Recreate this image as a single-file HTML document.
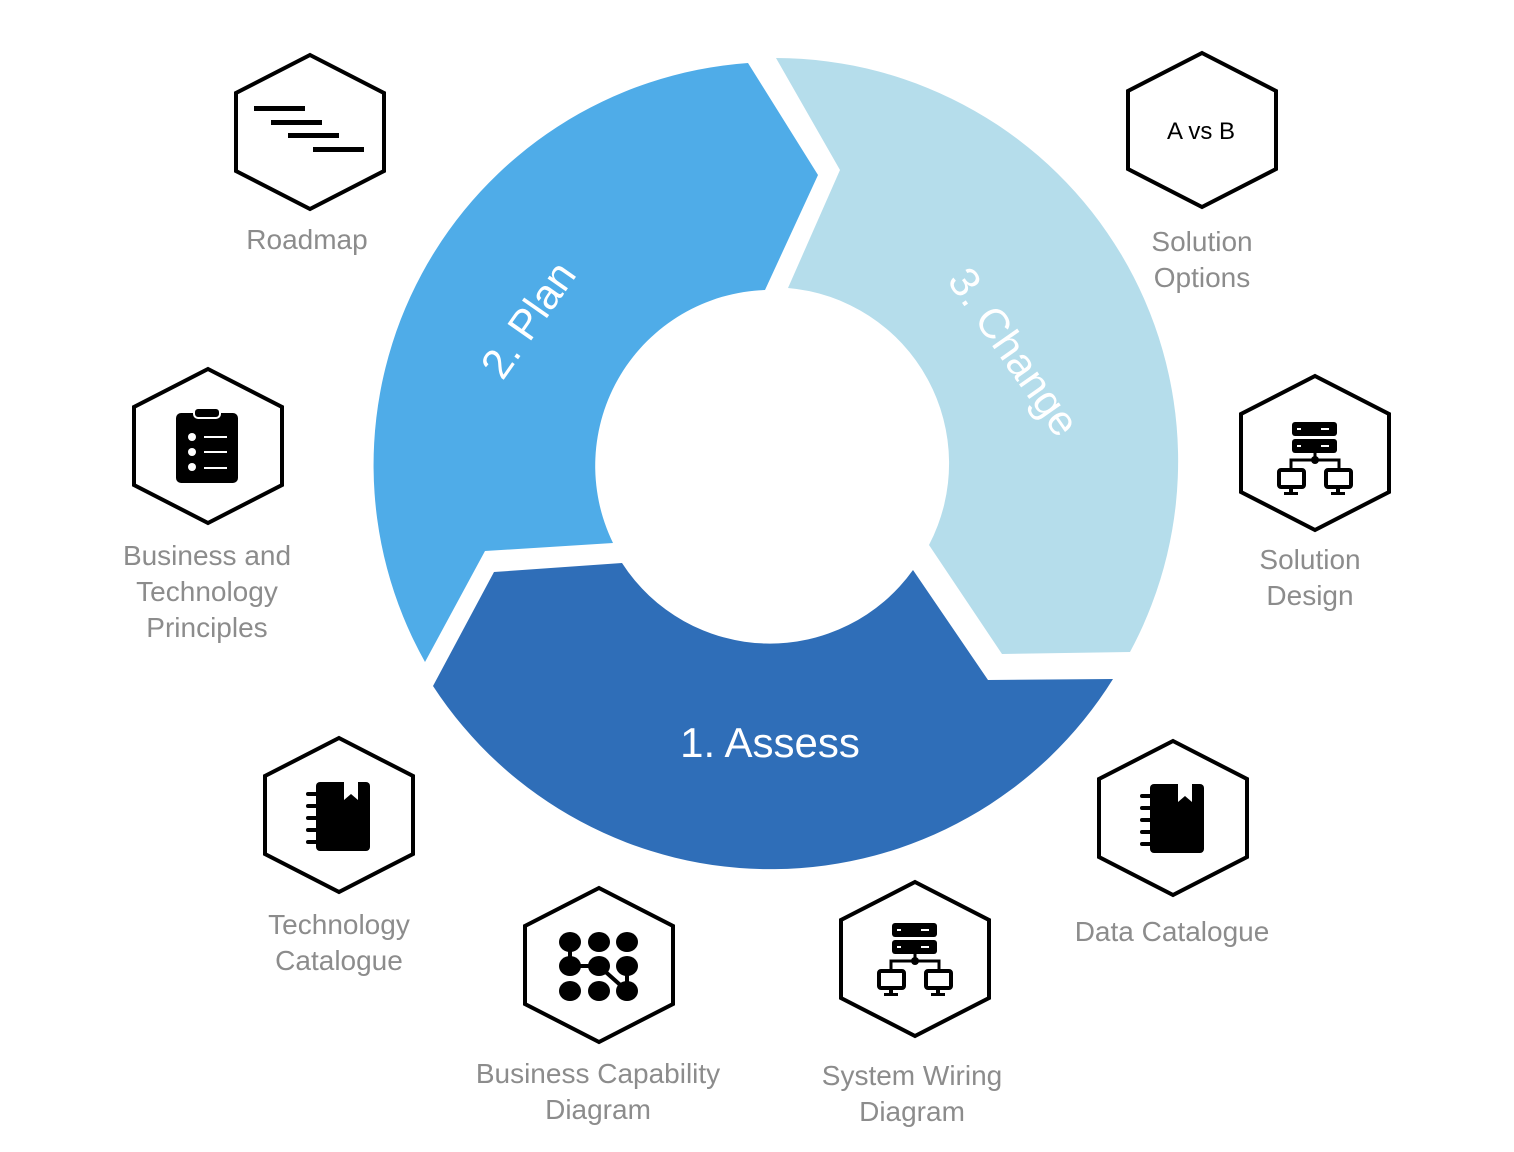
<!DOCTYPE html>
<html><head><meta charset="utf-8"><style>
html,body{margin:0;padding:0;background:#fff;}
svg{display:block;}
.lbl{font-family:"Liberation Sans",sans-serif;font-size:28px;fill:#8c8c8c;text-anchor:middle;}
.seg{font-family:"Liberation Sans",sans-serif;fill:#fff;font-size:42px;text-anchor:middle;}
</style></head><body>
<svg width="1514" height="1152" viewBox="0 0 1514 1152" xmlns="http://www.w3.org/2000/svg">
<defs>
<polygon id="hex" points="0,-77 74,-39 74,39 0,77 -74,39 -74,-39" fill="#fff" stroke="#000" stroke-width="4"/>
<g id="srv">
 <rect x="-23" y="-37" width="45" height="14" rx="3" fill="#000"/>
 <rect x="-23" y="-20" width="45" height="14" rx="3" fill="#000"/>
 <g stroke="#fff" stroke-width="2"><line x1="-18" y1="-30" x2="-14" y2="-30"/><line x1="6" y1="-30" x2="14" y2="-30"/><line x1="-18" y1="-13" x2="-14" y2="-13"/><line x1="6" y1="-13" x2="14" y2="-13"/></g>
 <line x1="0" y1="-6" x2="0" y2="1" stroke="#000" stroke-width="3"/>
 <circle cx="0" cy="1" r="4" fill="#000"/>
 <polyline points="-24,12 -24,1 24,1 24,12" fill="none" stroke="#000" stroke-width="3"/>
 <rect x="-36" y="11" width="25" height="17" rx="2" fill="none" stroke="#000" stroke-width="4"/>
 <rect x="11" y="11" width="25" height="17" rx="2" fill="none" stroke="#000" stroke-width="4"/>
 <rect x="-26" y="29" width="4" height="5" fill="#000"/><rect x="-31" y="33" width="14" height="3" fill="#000"/>
 <rect x="21" y="29" width="4" height="5" fill="#000"/><rect x="16" y="33" width="14" height="3" fill="#000"/>
</g>
<g id="book">
 <rect x="-23" y="-34" width="54" height="69" rx="4" fill="#000"/>
 <polygon points="5,-34 19,-34 19,-16 12,-22 5,-16" fill="#fff"/>
 <g stroke="#000" stroke-width="4" stroke-linecap="round">
  <line x1="-31" y1="-22" x2="-20" y2="-22"/><line x1="-31" y1="-10" x2="-20" y2="-10"/><line x1="-31" y1="2" x2="-20" y2="2"/><line x1="-31" y1="14" x2="-20" y2="14"/><line x1="-31" y1="26" x2="-20" y2="26"/>
 </g>
</g>
</defs>

<path d="M425,662 A403,403 0 0 1 748,63 L818,175 L765,290 A176,176 0 0 0 613,543 L485,551 Z" fill="#4FACE8"/>
<path d="M776,58 A403,403 0 0 1 1130,652 L1002,654 L929,545 A176,176 0 0 0 788,288 L840,170 Z" fill="#B5DDEB"/>
<path d="M1113,679 A403,403 0 0 1 433,686 L494,572 L622,563 A176,176 0 0 0 913,570 L988,680 Z" fill="#2F6EB8"/>

<text class="seg" transform="translate(540,328) rotate(-55)">2. Plan</text>
<text class="seg" transform="translate(1002,360) rotate(55)" font-size="44">3. Change</text>
<text class="seg" x="770" y="757">1. Assess</text>

<use href="#hex" x="310" y="132"/>
<g fill="#000"><rect x="254" y="106" width="51" height="5"/><rect x="271" y="120" width="51" height="5"/><rect x="288" y="133" width="51" height="5"/><rect x="313" y="147" width="51" height="5"/></g>
<text class="lbl" x="307" y="249">Roadmap</text>

<use href="#hex" x="1202" y="130"/>
<text x="1201" y="139" font-family="Liberation Sans,sans-serif" font-size="24" text-anchor="middle" fill="#000">A vs B</text>
<text class="lbl" x="1202" y="251">Solution</text>
<text class="lbl" x="1202" y="287">Options</text>

<use href="#hex" x="208" y="446"/>
<rect x="176" y="413" width="62" height="70" rx="5" fill="#000"/>
<rect x="194" y="408" width="26" height="10" rx="4" fill="#000" stroke="#fff" stroke-width="2"/>
<g fill="#fff"><circle cx="192" cy="437" r="4"/><circle cx="192" cy="452" r="4"/><circle cx="192" cy="467" r="4"/>
<rect x="204" y="436" width="23" height="2"/><rect x="204" y="451" width="23" height="2"/><rect x="204" y="467" width="23" height="2"/></g>
<text class="lbl" x="207" y="565">Business and</text>
<text class="lbl" x="207" y="601">Technology</text>
<text class="lbl" x="207" y="637">Principles</text>

<use href="#hex" x="1315" y="453"/>
<use href="#srv" x="1315" y="459"/>
<text class="lbl" x="1310" y="569">Solution</text>
<text class="lbl" x="1310" y="605">Design</text>

<use href="#hex" x="339" y="815"/>
<use href="#book" x="339" y="816"/>
<text class="lbl" x="339" y="934">Technology</text>
<text class="lbl" x="339" y="970">Catalogue</text>

<use href="#hex" x="1173" y="818"/>
<use href="#book" x="1173" y="818"/>
<text class="lbl" x="1172" y="941">Data Catalogue</text>

<use href="#hex" x="599" y="965"/>
<g fill="#000">
<ellipse cx="570" cy="942" rx="11" ry="10"/><ellipse cx="599" cy="942" rx="11" ry="10"/><ellipse cx="627" cy="942" rx="11" ry="10"/>
<ellipse cx="570" cy="966" rx="11" ry="10"/><ellipse cx="599" cy="966" rx="11" ry="10"/><ellipse cx="627" cy="966" rx="11" ry="10"/>
<ellipse cx="570" cy="991" rx="11" ry="10"/><ellipse cx="599" cy="991" rx="11" ry="10"/><ellipse cx="627" cy="991" rx="11" ry="10"/>
</g>
<polyline points="570,942 570,966 599,966 627,991 627,966" fill="none" stroke="#000" stroke-width="4"/>
<text class="lbl" x="598" y="1083">Business Capability</text>
<text class="lbl" x="598" y="1119">Diagram</text>

<use href="#hex" x="915" y="959"/>
<use href="#srv" x="915" y="960"/>
<text class="lbl" x="912" y="1085">System Wiring</text>
<text class="lbl" x="912" y="1121">Diagram</text>
</svg>
</body></html>
